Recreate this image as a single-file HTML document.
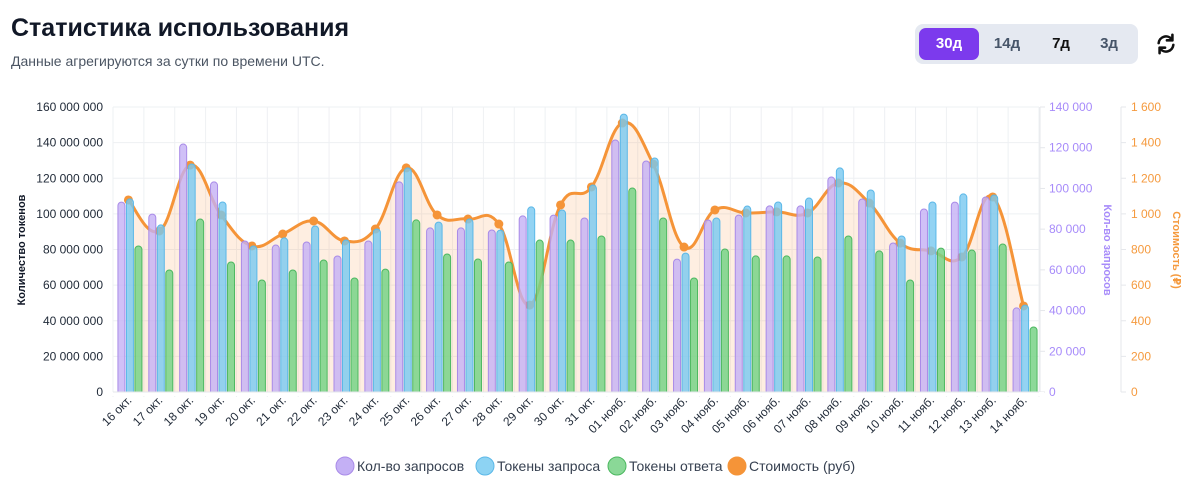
<!DOCTYPE html>
<html><head><meta charset="utf-8">
<style>
body{margin:0;background:#fff;font-family:"Liberation Sans","DejaVu Sans",sans-serif;}
#wrap{position:relative;width:1200px;height:489px;overflow:hidden;}
h1{position:absolute;left:11px;top:14px;margin:0;font-size:25px;font-weight:700;color:#111827;}
.sub{position:absolute;left:11px;top:53px;font-size:14px;color:#4b5563;}
.seg{position:absolute;left:915px;top:24px;width:223px;height:40px;background:#e5e9f1;border-radius:8px;}
.seg div{position:absolute;top:4px;height:32px;line-height:32px;text-align:center;font-size:15px;font-weight:700;color:#475569;border-radius:7px;}
svg text{font-family:"Liberation Sans","DejaVu Sans",sans-serif;}
</style></head><body>
<div id="wrap">
<h1>Статистика использования</h1>
<div class="sub">Данные агрегируются за сутки по времени UTC.</div>
<div class="seg">
<div style="left:4px;width:60px;background:#7c3aed;color:#fff">30д</div>
<div style="left:68px;width:48px">14д</div>
<div style="left:122px;width:48px;color:#111">7д</div>
<div style="left:170px;width:48px">3д</div>
</div>
<svg style="position:absolute;left:1155px;top:33px" width="22" height="22" viewBox="0 0 24 24"><path d="M4 11a8 8 0 0 1 14-4.5M20 13a8 8 0 0 1-14 4.5" fill="none" stroke="#111" stroke-width="2.8" stroke-linecap="round"/><path d="M19 2v6h-6M5 22v-6h6" fill="none" stroke="#111" stroke-width="2.8" stroke-linecap="round" stroke-linejoin="round"/></svg>
<svg id="chart" style="position:absolute;left:0;top:0" width="1200" height="489"></svg>
</div>
<script>
const categories=["16 окт.","17 окт.","18 окт.","19 окт.","20 окт.","21 окт.","22 окт.","23 окт.","24 окт.","25 окт.","26 окт.","27 окт.","28 окт.","29 окт.","30 окт.","31 окт.","01 нояб.","02 нояб.","03 нояб.","04 нояб.","05 нояб.","06 нояб.","07 нояб.","08 нояб.","09 нояб.","10 нояб.","11 нояб.","12 нояб.","13 нояб.","14 нояб."];
const requests=[93300,87400,121800,103200,74200,72200,73700,66800,74200,103200,80600,80600,79600,86500,86900,85500,123800,113500,65300,84500,86900,91400,91400,105600,94800,73200,89900,93300,95800,41300];
const promptTokens=[108.4e6,93.8e6,128e6,106.7e6,82e6,86.5e6,93.2e6,85.3e6,91.5e6,125.8e6,95.4e6,97.1e6,90.9e6,103.9e6,102.2e6,116.2e6,156e6,131.4e6,78e6,97.7e6,104.4e6,106.7e6,108.9e6,125.8e6,113.4e6,87.6e6,106.7e6,111.2e6,110.6e6,48.8e6];
const replyTokens=[82e6,68.5e6,97.1e6,73e6,62.9e6,68.5e6,74.1e6,64e6,69e6,96.6e6,77.5e6,74.7e6,73e6,85.3e6,85.3e6,87.6e6,114.5e6,97.7e6,64e6,80.3e6,76.4e6,76.4e6,75.8e6,87.6e6,79.2e6,62.9e6,80.8e6,79.7e6,83.1e6,36.5e6];
const cost=[1078,904,1274,994,820,887,960,848,915,1258,994,971,943,488,1050,1151,1510,1280,814,1022,1005,1011,1005,1173,1061,836,792,758,1095,483];
const leftTicks=[0,20e6,40e6,60e6,80e6,100e6,120e6,140e6,160e6];
const reqTicks=[0,20000,40000,60000,80000,100000,120000,140000];
const costTicks=[0,200,400,600,800,1000,1200,1400,1600];

const svg=document.getElementById('chart');
const NS='http://www.w3.org/2000/svg';
function el(t,a,p){const e=document.createElementNS(NS,t);for(const k in a)e.setAttribute(k,a[k]);(p||svg).appendChild(e);return e;}
const X0=113,X1=1039,Y0=392,Y1=107;
const bw=(X1-X0)/categories.length;
const yL=v=>Y0-v/160e6*(Y0-Y1);
const yR=v=>Y0-v/140000*(Y0-Y1);
const yC=v=>Y0-v/1600*(Y0-Y1);
const xc=i=>X0+bw*(i+0.5);
const fmt=n=>String(n).replace(/\B(?=(\d{3})+(?!\d))/g,' ');

// grid
leftTicks.forEach(t=>{const g=el('line',{x1:X0,x2:X1,y1:yL(t),y2:yL(t),stroke:'#eef0f3','stroke-width':1});
const tx=el('text',{x:103,y:yL(t)+4,'text-anchor':'end','font-size':12,fill:'#1f2937'});tx.textContent=fmt(t);});
for(let i=0;i<=categories.length;i++){const g=el('line',{x1:X0+bw*i,x2:X0+bw*i,y1:Y1,y2:Y0+5,stroke:'#eef0f3'});}
el('line',{x1:X1+1,x2:X1+1,y1:Y1,y2:Y0,stroke:'#e5e7eb'});
el('line',{x1:1121,x2:1121,y1:Y1,y2:Y0,stroke:'#e5e7eb'});
reqTicks.forEach(t=>{el('line',{x1:X1+1,x2:X1+6,y1:yR(t),y2:yR(t),stroke:'#e5e7eb'});const tx=el('text',{x:1049,y:yR(t)+4,'font-size':12,fill:'#a78bfa'});tx.textContent=fmt(t);});
costTicks.forEach(t=>{el('line',{x1:1121,x2:1126,y1:yC(t),y2:yC(t),stroke:'#e5e7eb'});const tx=el('text',{x:1131,y:yC(t)+4,'font-size':12,fill:'#f59a3e'});tx.textContent=fmt(t);});
let t1=el('text',{transform:'translate(25,250) rotate(-90)','text-anchor':'middle','font-size':11,'font-weight':700,fill:'#111827'});t1.textContent='Количество токенов';
let t2=el('text',{transform:'translate(1104,250) rotate(90)','text-anchor':'middle','font-size':11,'font-weight':700,fill:'#a78bfa'});t2.textContent='Кол-во запросов';
let t3=el('text',{transform:'translate(1173,250) rotate(90)','text-anchor':'middle','font-size':11,'font-weight':700,fill:'#f59a3e'});t3.textContent='Стоимость (₽)';

// cost line path
const pts=cost.map((v,i)=>[xc(i),yC(v)]);
let d='M'+pts[0][0]+','+pts[0][1];
for(let i=0;i<pts.length-1;i++){const p0=pts[i-1]||pts[i],p1=pts[i],p2=pts[i+1],p3=pts[i+2]||p2,k=0.2;
d+=` C${p1[0]+(p2[0]-p0[0])*k},${p1[1]+(p2[1]-p0[1])*k} ${p2[0]-(p3[0]-p1[0])*k},${p2[1]-(p3[1]-p1[1])*k} ${p2[0]},${p2[1]}`;}
const area=el('path',{d:d+` L${pts[pts.length-1][0]},${Y0} L${pts[0][0]},${Y0} Z`,fill:'rgba(249,150,70,0.16)'});

const line=el('path',{d:d,fill:'none',stroke:'#f59438','stroke-width':3});

pts.forEach(p=>{const c=el('circle',{cx:p[0],cy:p[1],r:4.5,fill:'#f59438'});});

// bars
const series=[[requests,yR,'rgba(196,176,245,0.8)','#a98be8',-8.5,'bar-requests'],[promptTokens,yL,'rgba(120,200,240,0.8)','#5bb8e8',0,'bar-prompt-tokens'],[replyTokens,yL,'rgba(120,210,135,0.85)','#4cb860',8.5,'bar-reply-tokens']];
series.forEach(s=>{s[0].forEach((v,i)=>{const y=s[1](v),x=xc(i)+s[4]+1.5-3.5;
const r=el('rect',{x:x,y:y,width:7,height:Y0-y+3,rx:3.5,fill:s[2],stroke:s[3],'stroke-width':1});
});});
el('rect',{x:X0-5,y:Y0,width:X1-X0+10,height:4,fill:'#fff'});
el('line',{x1:X0,x2:X1,y1:Y0,y2:Y0,stroke:'#e5e7eb'});

categories.forEach((c,i)=>{const x=xc(i)+4,y=401;const tx=el('text',{x:x,y:y,'text-anchor':'end','font-size':12,fill:'#1f2937',transform:`rotate(-45 ${x} ${y})`});tx.textContent=c;});

// legend
const leg=[[345,'Кол-во запросов','#c4b0f5','#a98be8'],[485,'Токены запроса','#8dd3f3','#5bb8e8'],[617,'Токены ответа','#8ad897','#4cb860'],[737,'Стоимость (руб)','#f59438','#f59438']];
leg.forEach(l=>{const g=el('g',{});
el('circle',{cx:l[0],cy:466,r:9,fill:l[2],stroke:l[3]},g);
const tx=el('text',{x:l[0]+12,y:471,'font-size':14,fill:'#374151'},g);tx.textContent=l[1];});
</script>
</body></html>
